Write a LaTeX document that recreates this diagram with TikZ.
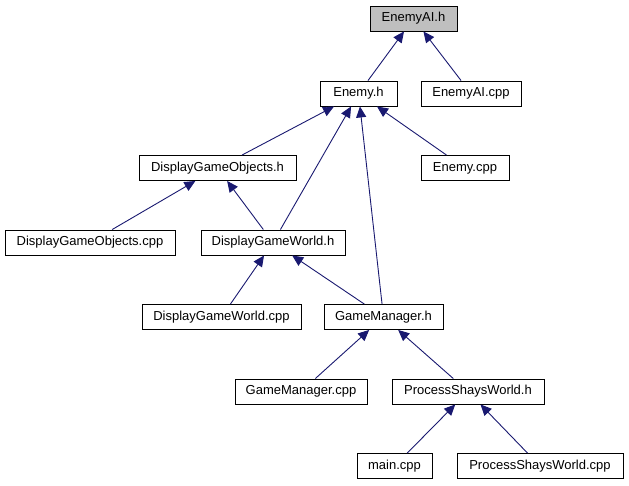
\documentclass[tikz,border=0pt]{standalone}
\usepackage{fontspec}
\setmainfont{Liberation Sans}
\usetikzlibrary{positioning, arrows.meta}
\definecolor{edgeblue}{RGB}{25,25,112}
\definecolor{headgrey}{RGB}{191,191,191}

\begin{document}
\begin{tikzpicture}[x=1pt, y=-1pt]
	\tikzset{
		filebox/.style={draw=black, line width=0.9pt, fill=white, minimum height=25pt, inner sep=0pt, font=\fontsize{13}{15}\selectfont},
		topfile/.style={filebox, fill=headgrey},
		include/.style={draw=edgeblue, line width=0.9pt, -{Triangle[length=11pt, width=10pt]}}
	}
	\useasboundingbox (0,0) rectangle (629,485);
	% header files and sources, one row per level
	\node[topfile, minimum width=87pt] (eai) at (413.5, 18.5) {EnemyAI.h};
	\node[filebox, minimum width=77pt] (en) at (358.5, 93.5) {Enemy.h};
	\node[filebox, minimum width=100pt] (eaicpp) at (471, 93.5) {EnemyAI.cpp};
	\node[filebox, minimum width=157pt] (dgo) at (217.5, 168) {DisplayGameObjects.h};
	\node[filebox, minimum width=88pt] (encpp) at (465, 168) {Enemy.cpp};
	\node[filebox, minimum width=170pt] (dgocpp) at (90, 242.5) {DisplayGameObjects.cpp};
	\node[filebox, minimum width=144pt] (dgw) at (273, 242.5) {DisplayGameWorld.h};
	\node[filebox, minimum width=159pt] (dgwcpp) at (221.5, 317) {DisplayGameWorld.cpp};
	\node[filebox, minimum width=119pt] (gm) at (383.5, 317) {GameManager.h};
	\node[filebox, minimum width=132pt] (gmcpp) at (301, 391.5) {GameManager.cpp};
	\node[filebox, minimum width=152pt] (psw) at (468, 391.5) {ProcessShaysWorld.h};
	\node[filebox, minimum width=75pt] (maincpp) at (394.5, 466) {main.cpp};
	\node[filebox, minimum width=166pt] (pswcpp) at (540, 466) {ProcessShaysWorld.cpp};
	% includes
	\foreach \a/\b in {en/eai, eaicpp/eai, dgo/en, dgw/en, gm/en, encpp/en,
		dgocpp/dgo, dgw/dgo, dgwcpp/dgw, gm/dgw, gmcpp/gm, psw/gm,
		maincpp/psw, pswcpp/psw} {
		\draw[include] (\a) -- (\b);
	}
\end{tikzpicture}
\end{document}
